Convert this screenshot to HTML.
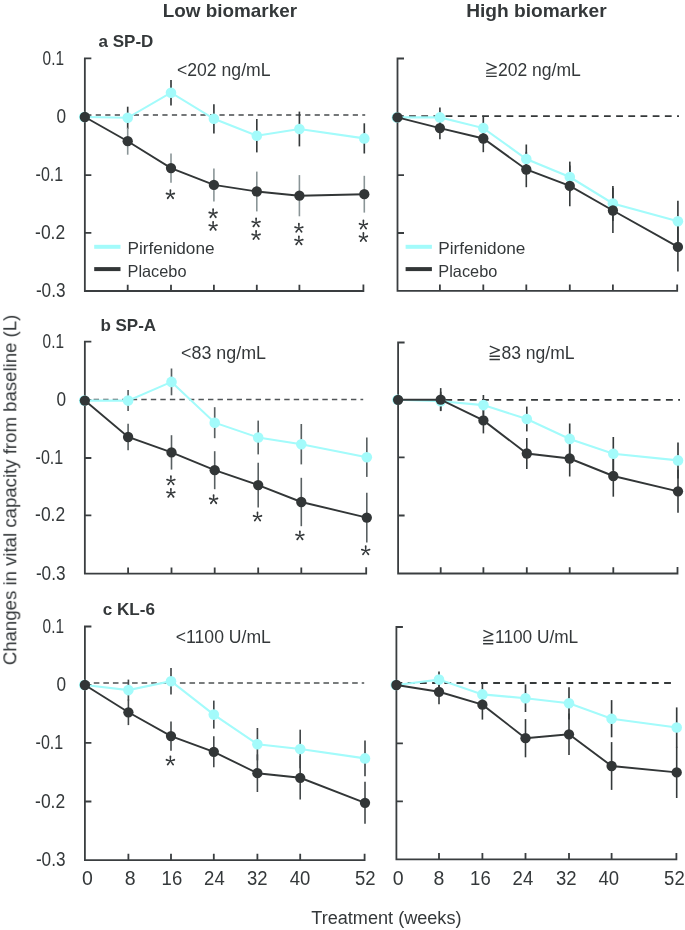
<!DOCTYPE html>
<html><head><meta charset="utf-8"><style>
html,body{margin:0;padding:0;background:#fff;overflow:hidden;}
svg{display:block;}
text{font-family:"Liberation Sans",sans-serif;fill:#34383a;}
</style></head><body>
<svg width="685" height="930" viewBox="0 0 685 930">
<rect width="685" height="930" fill="#fff"/>
<path d="M86.2 115.1H365.2" stroke="#474b4d" stroke-width="1.5" stroke-dasharray="5.2 4.32" fill="none"/>
<path d="M91.35 58.4H84.85V291H363.4V284.6M84.85 116.6h6.5M84.85 175.2h6.5M84.85 232.9h6.5M127.7 291v-6.3M171 291v-6.3M213.9 291v-6.3M256.8 291v-6.3M299.4 291v-6.3" stroke="#3a3e40" stroke-width="1.8" fill="none" stroke-linejoin="miter"/>
<path d="M127.7 106.7V128.9" stroke="#353a3b" stroke-width="1.65"/><path d="M171 79.9V105.5" stroke="#353a3b" stroke-width="1.65"/><path d="M213.9 104.2V133.4" stroke="#353a3b" stroke-width="1.65"/><path d="M256.8 119V152.4" stroke="#353a3b" stroke-width="1.65"/><path d="M299.4 111.6V146.4" stroke="#353a3b" stroke-width="1.65"/><path d="M364.3 123.3V153.5" stroke="#353a3b" stroke-width="1.65"/><path d="M127.7 127.7V154.7" stroke="#8a9597" stroke-width="1.6"/><path d="M171 153.5V182.7" stroke="#8a9597" stroke-width="1.6"/><path d="M213.9 168.4V201.4" stroke="#8a9597" stroke-width="1.6"/><path d="M256.8 171.6V211.4" stroke="#8a9597" stroke-width="1.6"/><path d="M299.4 175.1V216.3" stroke="#8a9597" stroke-width="1.6"/><path d="M364.3 175.8V212.6" stroke="#8a9597" stroke-width="1.6"/>
<polyline points="84.85,117 127.7,117.8 171,92.7 213.9,118.8 256.8,135.7 299.4,129 364.3,138.4" stroke="#a3fbfb" stroke-width="2.1" fill="none"/>
<circle cx="84.25" cy="117" r="5.3" fill="#a3fbfb"/><circle cx="127.7" cy="117.8" r="5.3" fill="#a3fbfb"/><circle cx="171" cy="92.7" r="5.3" fill="#a3fbfb"/><circle cx="213.9" cy="118.8" r="5.3" fill="#a3fbfb"/><circle cx="256.8" cy="135.7" r="5.3" fill="#a3fbfb"/><circle cx="299.4" cy="129" r="5.3" fill="#a3fbfb"/><circle cx="364.3" cy="138.4" r="5.3" fill="#a3fbfb"/>
<polyline points="84.85,117 127.7,141.2 171,168.1 213.9,184.9 256.8,191.5 299.4,195.7 364.3,194.2" stroke="#323637" stroke-width="1.9" fill="none"/>
<circle cx="84.85" cy="117" r="5.15" fill="#323637"/><circle cx="127.7" cy="141.2" r="5.15" fill="#323637"/><circle cx="171" cy="168.1" r="5.15" fill="#323637"/><circle cx="213.9" cy="184.9" r="5.15" fill="#323637"/><circle cx="256.8" cy="191.5" r="5.15" fill="#323637"/><circle cx="299.4" cy="195.7" r="5.15" fill="#323637"/><circle cx="364.3" cy="194.2" r="5.15" fill="#323637"/>
<path d="M396.9 116.1H679" stroke="#35393a" stroke-width="1.8" stroke-dasharray="6.8 5.38" fill="none"/>
<path d="M404 58.5H397.5V290.8H677.2V284.4M397.5 116.7h6.5M397.5 175.2h6.5M397.5 233h6.5M439.9 290.8v-6.3M483.3 290.8v-6.3M526.3 290.8v-6.3M569.8 290.8v-6.3M612.9 290.8v-6.3" stroke="#3a3e40" stroke-width="1.8" fill="none" stroke-linejoin="miter"/>
<path d="M439.9 107.5V127.3" stroke="#353a3b" stroke-width="1.65"/><path d="M483.3 115.7V140.5" stroke="#353a3b" stroke-width="1.65"/><path d="M526.3 144.5V173.5" stroke="#353a3b" stroke-width="1.65"/><path d="M569.8 161.6V192.4" stroke="#353a3b" stroke-width="1.65"/><path d="M612.9 185.9V221.1" stroke="#353a3b" stroke-width="1.65"/><path d="M677.9 200.7V241.7" stroke="#353a3b" stroke-width="1.65"/><path d="M439.9 116.9V139.3" stroke="#353a3b" stroke-width="1.6"/><path d="M483.3 124.8V152.2" stroke="#353a3b" stroke-width="1.6"/><path d="M526.3 151.8V187.2" stroke="#353a3b" stroke-width="1.6"/><path d="M569.8 165.5V206.3" stroke="#353a3b" stroke-width="1.6"/><path d="M612.9 188.1V232.9" stroke="#353a3b" stroke-width="1.6"/><path d="M677.9 222.3V271.5" stroke="#353a3b" stroke-width="1.6"/>
<polyline points="397.5,117.4 439.9,117.4 483.3,128.1 526.3,159 569.8,177 612.9,203.5 677.9,221.2" stroke="#a3fbfb" stroke-width="2.1" fill="none"/>
<circle cx="396.9" cy="117.4" r="5.3" fill="#a3fbfb"/><circle cx="439.9" cy="117.4" r="5.3" fill="#a3fbfb"/><circle cx="483.3" cy="128.1" r="5.3" fill="#a3fbfb"/><circle cx="526.3" cy="159" r="5.3" fill="#a3fbfb"/><circle cx="569.8" cy="177" r="5.3" fill="#a3fbfb"/><circle cx="612.9" cy="203.5" r="5.3" fill="#a3fbfb"/><circle cx="677.9" cy="221.2" r="5.3" fill="#a3fbfb"/>
<polyline points="397.5,117.4 439.9,128.1 483.3,138.5 526.3,169.5 569.8,185.9 612.9,210.5 677.9,246.9" stroke="#323637" stroke-width="1.9" fill="none"/>
<circle cx="397.5" cy="117.4" r="5.15" fill="#323637"/><circle cx="439.9" cy="128.1" r="5.15" fill="#323637"/><circle cx="483.3" cy="138.5" r="5.15" fill="#323637"/><circle cx="526.3" cy="169.5" r="5.15" fill="#323637"/><circle cx="569.8" cy="185.9" r="5.15" fill="#323637"/><circle cx="612.9" cy="210.5" r="5.15" fill="#323637"/><circle cx="677.9" cy="246.9" r="5.15" fill="#323637"/>
<path d="M84.1 399.5H363.2" stroke="#515557" stroke-width="1.5" stroke-dasharray="5.4 4.13" fill="none"/>
<path d="M91.35 341.7H84.85V573.7H366.2V567.3M84.85 399.8h6.5M84.85 458h6.5M84.85 515.3h6.5M128.1 573.7v-6.3M171.5 573.7v-6.3M214.7 573.7v-6.3M258.2 573.7v-6.3M301.3 573.7v-6.3" stroke="#3a3e40" stroke-width="1.8" fill="none" stroke-linejoin="miter"/>
<path d="M128.1 390.1V411.1" stroke="#596062" stroke-width="1.65"/><path d="M171.5 368.5V395.3" stroke="#596062" stroke-width="1.65"/><path d="M214.7 407.2V438.2" stroke="#596062" stroke-width="1.65"/><path d="M258.2 420.6V454.4" stroke="#596062" stroke-width="1.65"/><path d="M301.3 424V464.4" stroke="#596062" stroke-width="1.65"/><path d="M366.8 437.5V476.9" stroke="#596062" stroke-width="1.65"/><path d="M128.1 423.7V450.3" stroke="#596062" stroke-width="1.6"/><path d="M171.5 435.2V469.6" stroke="#596062" stroke-width="1.6"/><path d="M214.7 451.2V489.2" stroke="#596062" stroke-width="1.6"/><path d="M258.2 462.8V507.4" stroke="#596062" stroke-width="1.6"/><path d="M301.3 477.8V526.2" stroke="#596062" stroke-width="1.6"/><path d="M366.8 492.8V542.4" stroke="#596062" stroke-width="1.6"/>
<polyline points="84.85,400.6 128.1,400.6 171.5,381.9 214.7,422.7 258.2,437.5 301.3,444.2 366.8,457.2" stroke="#a3fbfb" stroke-width="2.1" fill="none"/>
<circle cx="84.25" cy="400.6" r="5.3" fill="#a3fbfb"/><circle cx="128.1" cy="400.6" r="5.3" fill="#a3fbfb"/><circle cx="171.5" cy="381.9" r="5.3" fill="#a3fbfb"/><circle cx="214.7" cy="422.7" r="5.3" fill="#a3fbfb"/><circle cx="258.2" cy="437.5" r="5.3" fill="#a3fbfb"/><circle cx="301.3" cy="444.2" r="5.3" fill="#a3fbfb"/><circle cx="366.8" cy="457.2" r="5.3" fill="#a3fbfb"/>
<polyline points="84.85,400.6 128.1,437 171.5,452.4 214.7,470.2 258.2,485.1 301.3,502 366.8,517.6" stroke="#323637" stroke-width="1.9" fill="none"/>
<circle cx="84.85" cy="400.6" r="5.15" fill="#323637"/><circle cx="128.1" cy="437" r="5.15" fill="#323637"/><circle cx="171.5" cy="452.4" r="5.15" fill="#323637"/><circle cx="214.7" cy="470.2" r="5.15" fill="#323637"/><circle cx="258.2" cy="485.1" r="5.15" fill="#323637"/><circle cx="301.3" cy="502" r="5.15" fill="#323637"/><circle cx="366.8" cy="517.6" r="5.15" fill="#323637"/>
<path d="M396.2 399.8H680" stroke="#35393a" stroke-width="1.8" stroke-dasharray="6.9 5.36" fill="none"/>
<path d="M404.6 342.5H398.1V573.5H677.5V567.1M398.1 400h6.5M398.1 457.4h6.5M398.1 515.5h6.5M440.7 573.5v-6.3M483.4 573.5v-6.3M526.8 573.5v-6.3M569.7 573.5v-6.3M613.3 573.5v-6.3" stroke="#3a3e40" stroke-width="1.8" fill="none" stroke-linejoin="miter"/>
<path d="M440.7 391.7V410.7" stroke="#353a3b" stroke-width="1.65"/><path d="M483.4 395V415.2" stroke="#353a3b" stroke-width="1.65"/><path d="M526.8 406.6V431.4" stroke="#353a3b" stroke-width="1.65"/><path d="M569.7 423.5V454.3" stroke="#353a3b" stroke-width="1.65"/><path d="M613.3 437V470.4" stroke="#353a3b" stroke-width="1.65"/><path d="M678 442.4V478.4" stroke="#353a3b" stroke-width="1.65"/><path d="M440.7 388.1V411.1" stroke="#353a3b" stroke-width="1.6"/><path d="M483.4 407.4V433.4" stroke="#353a3b" stroke-width="1.6"/><path d="M526.8 437.9V469.1" stroke="#353a3b" stroke-width="1.6"/><path d="M569.7 440.5V476.5" stroke="#353a3b" stroke-width="1.6"/><path d="M613.3 455.3V496.7" stroke="#353a3b" stroke-width="1.6"/><path d="M678 469.8V512.8" stroke="#353a3b" stroke-width="1.6"/>
<polyline points="398.1,399.8 440.7,401.2 483.4,405.1 526.8,419 569.7,438.9 613.3,453.7 678,460.4" stroke="#a3fbfb" stroke-width="2.1" fill="none"/>
<circle cx="397.5" cy="399.8" r="5.3" fill="#a3fbfb"/><circle cx="440.7" cy="401.2" r="5.3" fill="#a3fbfb"/><circle cx="483.4" cy="405.1" r="5.3" fill="#a3fbfb"/><circle cx="526.8" cy="419" r="5.3" fill="#a3fbfb"/><circle cx="569.7" cy="438.9" r="5.3" fill="#a3fbfb"/><circle cx="613.3" cy="453.7" r="5.3" fill="#a3fbfb"/><circle cx="678" cy="460.4" r="5.3" fill="#a3fbfb"/>
<polyline points="398.1,399.8 440.7,399.6 483.4,420.4 526.8,453.5 569.7,458.5 613.3,476 678,491.3" stroke="#323637" stroke-width="1.9" fill="none"/>
<circle cx="398.1" cy="399.8" r="5.15" fill="#323637"/><circle cx="440.7" cy="399.6" r="5.15" fill="#323637"/><circle cx="483.4" cy="420.4" r="5.15" fill="#323637"/><circle cx="526.8" cy="453.5" r="5.15" fill="#323637"/><circle cx="569.7" cy="458.5" r="5.15" fill="#323637"/><circle cx="613.3" cy="476" r="5.15" fill="#323637"/><circle cx="678" cy="491.3" r="5.15" fill="#323637"/>
<path d="M84.2 682.9H364.2" stroke="#4d5153" stroke-width="1.5" stroke-dasharray="5.6 3.97" fill="none"/>
<path d="M91.4 626.5H84.9V860.1H364.6V853.7M84.9 684.8h6.5M84.9 742.8h6.5M84.9 801.5h6.5M128.4 860.1v-6.3M171 860.1v-6.3M213.8 860.1v-6.3M257.4 860.1v-6.3M300.2 860.1v-6.3" stroke="#3a3e40" stroke-width="1.8" fill="none" stroke-linejoin="miter"/>
<path d="M128.4 679.6V700.6" stroke="#43484a" stroke-width="1.65"/><path d="M171 667.9V694.5" stroke="#43484a" stroke-width="1.65"/><path d="M213.8 700.6V728.6" stroke="#43484a" stroke-width="1.65"/><path d="M257.4 728V760.4" stroke="#43484a" stroke-width="1.65"/><path d="M300.2 729.7V768.3" stroke="#43484a" stroke-width="1.65"/><path d="M365 740.6V776.2" stroke="#43484a" stroke-width="1.65"/><path d="M128.4 699.5V725.1" stroke="#43484a" stroke-width="1.6"/><path d="M171 721.4V750.8" stroke="#43484a" stroke-width="1.6"/><path d="M213.8 736.3V767.3" stroke="#43484a" stroke-width="1.6"/><path d="M257.4 754.4V792" stroke="#43484a" stroke-width="1.6"/><path d="M300.2 756V799.6" stroke="#43484a" stroke-width="1.6"/><path d="M365 781.8V823.8" stroke="#43484a" stroke-width="1.6"/>
<polyline points="84.9,685 128.4,690.1 171,681.2 213.8,714.6 257.4,744.2 300.2,749 365,758.4" stroke="#a3fbfb" stroke-width="2.1" fill="none"/>
<circle cx="84.3" cy="685" r="5.3" fill="#a3fbfb"/><circle cx="128.4" cy="690.1" r="5.3" fill="#a3fbfb"/><circle cx="171" cy="681.2" r="5.3" fill="#a3fbfb"/><circle cx="213.8" cy="714.6" r="5.3" fill="#a3fbfb"/><circle cx="257.4" cy="744.2" r="5.3" fill="#a3fbfb"/><circle cx="300.2" cy="749" r="5.3" fill="#a3fbfb"/><circle cx="365" cy="758.4" r="5.3" fill="#a3fbfb"/>
<polyline points="84.9,685 128.4,712.3 171,736.1 213.8,751.8 257.4,773.2 300.2,777.8 365,802.8" stroke="#323637" stroke-width="1.9" fill="none"/>
<circle cx="84.9" cy="685" r="5.15" fill="#323637"/><circle cx="128.4" cy="712.3" r="5.15" fill="#323637"/><circle cx="171" cy="736.1" r="5.15" fill="#323637"/><circle cx="213.8" cy="751.8" r="5.15" fill="#323637"/><circle cx="257.4" cy="773.2" r="5.15" fill="#323637"/><circle cx="300.2" cy="777.8" r="5.15" fill="#323637"/><circle cx="365" cy="802.8" r="5.15" fill="#323637"/>
<path d="M395.5 683H671.1" stroke="#35393a" stroke-width="1.8" stroke-dasharray="6.8 5.41" fill="none"/>
<path d="M402.9 627H396.4V859.4H676.4V853M396.4 685h6.5M396.4 743.3h6.5M396.4 801.3h6.5M439 859.4v-6.3M482.4 859.4v-6.3M525.5 859.4v-6.3M569 859.4v-6.3M611.6 859.4v-6.3" stroke="#3a3e40" stroke-width="1.8" fill="none" stroke-linejoin="miter"/>
<path d="M439 671.5V687.7" stroke="#353a3b" stroke-width="1.65"/><path d="M482.4 683.5V705.3" stroke="#353a3b" stroke-width="1.65"/><path d="M525.5 684.4V712" stroke="#353a3b" stroke-width="1.65"/><path d="M569 687.2V719.4" stroke="#353a3b" stroke-width="1.65"/><path d="M611.6 700.1V737.3" stroke="#353a3b" stroke-width="1.65"/><path d="M676.7 707.4V747.6" stroke="#353a3b" stroke-width="1.65"/><path d="M439 679.3V704.3" stroke="#353a3b" stroke-width="1.6"/><path d="M482.4 689.8V719.6" stroke="#353a3b" stroke-width="1.6"/><path d="M525.5 719.1V757.3" stroke="#353a3b" stroke-width="1.6"/><path d="M569 713.6V755" stroke="#353a3b" stroke-width="1.6"/><path d="M611.6 742.1V789.9" stroke="#353a3b" stroke-width="1.6"/><path d="M676.7 746.8V798" stroke="#353a3b" stroke-width="1.6"/>
<polyline points="396.4,685 439,679.6 482.4,694.4 525.5,698.2 569,703.3 611.6,718.7 676.7,727.5" stroke="#a3fbfb" stroke-width="2.1" fill="none"/>
<circle cx="395.8" cy="685" r="5.3" fill="#a3fbfb"/><circle cx="439" cy="679.6" r="5.3" fill="#a3fbfb"/><circle cx="482.4" cy="694.4" r="5.3" fill="#a3fbfb"/><circle cx="525.5" cy="698.2" r="5.3" fill="#a3fbfb"/><circle cx="569" cy="703.3" r="5.3" fill="#a3fbfb"/><circle cx="611.6" cy="718.7" r="5.3" fill="#a3fbfb"/><circle cx="676.7" cy="727.5" r="5.3" fill="#a3fbfb"/>
<polyline points="396.4,685 439,691.8 482.4,704.7 525.5,738.2 569,734.3 611.6,766 676.7,772.4" stroke="#323637" stroke-width="1.9" fill="none"/>
<circle cx="396.4" cy="685" r="5.15" fill="#323637"/><circle cx="439" cy="691.8" r="5.15" fill="#323637"/><circle cx="482.4" cy="704.7" r="5.15" fill="#323637"/><circle cx="525.5" cy="738.2" r="5.15" fill="#323637"/><circle cx="569" cy="734.3" r="5.15" fill="#323637"/><circle cx="611.6" cy="766" r="5.15" fill="#323637"/><circle cx="676.7" cy="772.4" r="5.15" fill="#323637"/>
<path d="M170.9 194.6L171.32 190.15A0.92 0.92 0 0 0 169.48 190.15L169.9 194.6ZM170.54 195.08L174.5 194.38A0.92 0.92 0 0 0 174 192.61L170.26 194.12ZM170 194.9L172.34 198.71A0.92 0.92 0 0 0 173.81 197.6L170.8 194.3ZM170 194.3L166.99 197.6A0.92 0.92 0 0 0 168.46 198.71L170.8 194.9ZM170.54 194.12L166.8 192.61A0.92 0.92 0 0 0 166.3 194.38L170.26 195.08Z" fill="#34383a" fill-rule="nonzero"/>
<path d="M213.6 213.6L214.02 209.15A0.92 0.92 0 0 0 212.18 209.15L212.6 213.6ZM213.24 214.08L217.2 213.38A0.92 0.92 0 0 0 216.7 211.61L212.96 213.12ZM212.7 213.9L215.04 217.71A0.92 0.92 0 0 0 216.51 216.6L213.5 213.3ZM212.7 213.3L209.69 216.6A0.92 0.92 0 0 0 211.16 217.71L213.5 213.9ZM213.24 213.12L209.5 211.61A0.92 0.92 0 0 0 209 213.38L212.96 214.08Z" fill="#34383a" fill-rule="nonzero"/>
<path d="M213.6 226.3L214.02 221.85A0.92 0.92 0 0 0 212.18 221.85L212.6 226.3ZM213.24 226.78L217.2 226.08A0.92 0.92 0 0 0 216.7 224.31L212.96 225.82ZM212.7 226.6L215.04 230.41A0.92 0.92 0 0 0 216.51 229.3L213.5 226ZM212.7 226L209.69 229.3A0.92 0.92 0 0 0 211.16 230.41L213.5 226.6ZM213.24 225.82L209.5 224.31A0.92 0.92 0 0 0 209 226.08L212.96 226.78Z" fill="#34383a" fill-rule="nonzero"/>
<path d="M256.6 222.8L257.02 218.35A0.92 0.92 0 0 0 255.18 218.35L255.6 222.8ZM256.24 223.28L260.2 222.58A0.92 0.92 0 0 0 259.7 220.81L255.96 222.32ZM255.7 223.1L258.04 226.91A0.92 0.92 0 0 0 259.51 225.8L256.5 222.5ZM255.7 222.5L252.69 225.8A0.92 0.92 0 0 0 254.16 226.91L256.5 223.1ZM256.24 222.32L252.5 220.81A0.92 0.92 0 0 0 252 222.58L255.96 223.28Z" fill="#34383a" fill-rule="nonzero"/>
<path d="M256.6 235.4L257.02 230.95A0.92 0.92 0 0 0 255.18 230.95L255.6 235.4ZM256.24 235.88L260.2 235.18A0.92 0.92 0 0 0 259.7 233.41L255.96 234.92ZM255.7 235.7L258.04 239.51A0.92 0.92 0 0 0 259.51 238.4L256.5 235.1ZM255.7 235.1L252.69 238.4A0.92 0.92 0 0 0 254.16 239.51L256.5 235.7ZM256.24 234.92L252.5 233.41A0.92 0.92 0 0 0 252 235.18L255.96 235.88Z" fill="#34383a" fill-rule="nonzero"/>
<path d="M299.4 228.2L299.82 223.75A0.92 0.92 0 0 0 297.98 223.75L298.4 228.2ZM299.04 228.68L303 227.98A0.92 0.92 0 0 0 302.5 226.21L298.76 227.72ZM298.5 228.5L300.84 232.31A0.92 0.92 0 0 0 302.31 231.2L299.3 227.9ZM298.5 227.9L295.49 231.2A0.92 0.92 0 0 0 296.96 232.31L299.3 228.5ZM299.04 227.72L295.3 226.21A0.92 0.92 0 0 0 294.8 227.98L298.76 228.68Z" fill="#34383a" fill-rule="nonzero"/>
<path d="M299.4 240.8L299.82 236.35A0.92 0.92 0 0 0 297.98 236.35L298.4 240.8ZM299.04 241.28L303 240.58A0.92 0.92 0 0 0 302.5 238.81L298.76 240.32ZM298.5 241.1L300.84 244.91A0.92 0.92 0 0 0 302.31 243.8L299.3 240.5ZM298.5 240.5L295.49 243.8A0.92 0.92 0 0 0 296.96 244.91L299.3 241.1ZM299.04 240.32L295.3 238.81A0.92 0.92 0 0 0 294.8 240.58L298.76 241.28Z" fill="#34383a" fill-rule="nonzero"/>
<path d="M363.9 224.9L364.32 220.45A0.92 0.92 0 0 0 362.48 220.45L362.9 224.9ZM363.54 225.38L367.5 224.68A0.92 0.92 0 0 0 367 222.91L363.26 224.42ZM363 225.2L365.34 229.01A0.92 0.92 0 0 0 366.81 227.9L363.8 224.6ZM363 224.6L359.99 227.9A0.92 0.92 0 0 0 361.46 229.01L363.8 225.2ZM363.54 224.42L359.8 222.91A0.92 0.92 0 0 0 359.3 224.68L363.26 225.38Z" fill="#34383a" fill-rule="nonzero"/>
<path d="M363.9 237.4L364.32 232.95A0.92 0.92 0 0 0 362.48 232.95L362.9 237.4ZM363.54 237.88L367.5 237.18A0.92 0.92 0 0 0 367 235.41L363.26 236.92ZM363 237.7L365.34 241.51A0.92 0.92 0 0 0 366.81 240.4L363.8 237.1ZM363 237.1L359.99 240.4A0.92 0.92 0 0 0 361.46 241.51L363.8 237.7ZM363.54 236.92L359.8 235.41A0.92 0.92 0 0 0 359.3 237.18L363.26 237.88Z" fill="#34383a" fill-rule="nonzero"/>
<path d="M171.4 480.7L171.82 476.25A0.92 0.92 0 0 0 169.98 476.25L170.4 480.7ZM171.04 481.18L175 480.48A0.92 0.92 0 0 0 174.5 478.71L170.76 480.22ZM170.5 481L172.84 484.81A0.92 0.92 0 0 0 174.31 483.7L171.3 480.4ZM170.5 480.4L167.49 483.7A0.92 0.92 0 0 0 168.96 484.81L171.3 481ZM171.04 480.22L167.3 478.71A0.92 0.92 0 0 0 166.8 480.48L170.76 481.18Z" fill="#34383a" fill-rule="nonzero"/>
<path d="M171.4 493.3L171.82 488.85A0.92 0.92 0 0 0 169.98 488.85L170.4 493.3ZM171.04 493.78L175 493.08A0.92 0.92 0 0 0 174.5 491.31L170.76 492.82ZM170.5 493.6L172.84 497.41A0.92 0.92 0 0 0 174.31 496.3L171.3 493ZM170.5 493L167.49 496.3A0.92 0.92 0 0 0 168.96 497.41L171.3 493.6ZM171.04 492.82L167.3 491.31A0.92 0.92 0 0 0 166.8 493.08L170.76 493.78Z" fill="#34383a" fill-rule="nonzero"/>
<path d="M214.1 499.6L214.52 495.15A0.92 0.92 0 0 0 212.68 495.15L213.1 499.6ZM213.74 500.08L217.7 499.38A0.92 0.92 0 0 0 217.2 497.61L213.46 499.12ZM213.2 499.9L215.54 503.71A0.92 0.92 0 0 0 217.01 502.6L214 499.3ZM213.2 499.3L210.19 502.6A0.92 0.92 0 0 0 211.66 503.71L214 499.9ZM213.74 499.12L210 497.61A0.92 0.92 0 0 0 209.5 499.38L213.46 500.08Z" fill="#34383a" fill-rule="nonzero"/>
<path d="M258 516.9L258.42 512.45A0.92 0.92 0 0 0 256.58 512.45L257 516.9ZM257.64 517.38L261.6 516.68A0.92 0.92 0 0 0 261.1 514.91L257.36 516.42ZM257.1 517.2L259.44 521.01A0.92 0.92 0 0 0 260.91 519.9L257.9 516.6ZM257.1 516.6L254.09 519.9A0.92 0.92 0 0 0 255.56 521.01L257.9 517.2ZM257.64 516.42L253.9 514.91A0.92 0.92 0 0 0 253.4 516.68L257.36 517.38Z" fill="#34383a" fill-rule="nonzero"/>
<path d="M300.4 535.8L300.82 531.35A0.92 0.92 0 0 0 298.98 531.35L299.4 535.8ZM300.04 536.28L304 535.58A0.92 0.92 0 0 0 303.5 533.81L299.76 535.32ZM299.5 536.1L301.84 539.91A0.92 0.92 0 0 0 303.31 538.8L300.3 535.5ZM299.5 535.5L296.49 538.8A0.92 0.92 0 0 0 297.96 539.91L300.3 536.1ZM300.04 535.32L296.3 533.81A0.92 0.92 0 0 0 295.8 535.58L299.76 536.28Z" fill="#34383a" fill-rule="nonzero"/>
<path d="M366.2 550.7L366.62 546.25A0.92 0.92 0 0 0 364.78 546.25L365.2 550.7ZM365.84 551.18L369.8 550.48A0.92 0.92 0 0 0 369.3 548.71L365.56 550.22ZM365.3 551L367.64 554.81A0.92 0.92 0 0 0 369.11 553.7L366.1 550.4ZM365.3 550.4L362.29 553.7A0.92 0.92 0 0 0 363.76 554.81L366.1 551ZM365.84 550.22L362.1 548.71A0.92 0.92 0 0 0 361.6 550.48L365.56 551.18Z" fill="#34383a" fill-rule="nonzero"/>
<path d="M170.9 760.9L171.32 756.45A0.92 0.92 0 0 0 169.48 756.45L169.9 760.9ZM170.54 761.38L174.5 760.68A0.92 0.92 0 0 0 174 758.91L170.26 760.42ZM170 761.2L172.34 765.01A0.92 0.92 0 0 0 173.81 763.9L170.8 760.6ZM170 760.6L166.99 763.9A0.92 0.92 0 0 0 168.46 765.01L170.8 761.2ZM170.54 760.42L166.8 758.91A0.92 0.92 0 0 0 166.3 760.68L170.26 761.38Z" fill="#34383a" fill-rule="nonzero"/>
<path d="M486.4 63.1L496.3 67.02L486.4 70.8" stroke="#34383a" stroke-width="1.35" fill="none" stroke-linejoin="round" stroke-linecap="butt"/><path d="M486.1 73.18H496.7M486.1 76.4H496.7" stroke="#34383a" stroke-width="1.35" fill="none"/>
<path d="M489.8 346.2L499.5 350.12L489.8 353.9" stroke="#34383a" stroke-width="1.35" fill="none" stroke-linejoin="round" stroke-linecap="butt"/><path d="M489.5 356.28H499.9M489.5 359.5H499.9" stroke="#34383a" stroke-width="1.35" fill="none"/>
<path d="M483.4 630.4L492.9 634.32L483.4 638.1" stroke="#34383a" stroke-width="1.35" fill="none" stroke-linejoin="round" stroke-linecap="butt"/><path d="M483.1 640.48H493.3M483.1 643.7H493.3" stroke="#34383a" stroke-width="1.35" fill="none"/>
<path d="M94.2 246.8h26.3" stroke="#a3fbfb" stroke-width="4"/>
<path d="M94.2 269.1h26.3" stroke="#323637" stroke-width="4"/>
<path d="M405.6 246.8h26.3" stroke="#a3fbfb" stroke-width="4"/>
<path d="M405.6 269.1h26.3" stroke="#323637" stroke-width="4"/>
<g style="will-change:transform">
<text x="162.8" y="16.8" font-size="19" font-weight="700" textLength="134.2" lengthAdjust="spacingAndGlyphs">Low biomarker</text>
<text x="466.2" y="16.8" font-size="19" font-weight="700" textLength="140.4" lengthAdjust="spacingAndGlyphs">High biomarker</text>
<text x="98.6" y="47.3" font-size="17" font-weight="700">a SP-D</text>
<text x="100.4" y="331" font-size="17" font-weight="700">b SP-A</text>
<text x="102.7" y="614.7" font-size="17" font-weight="700" textLength="52.2" lengthAdjust="spacingAndGlyphs">c KL-6</text>
<text x="177" y="75.8" font-size="17.5" textLength="93.5" lengthAdjust="spacingAndGlyphs">&lt;202 ng/mL</text>
<text x="497.9" y="75.8" font-size="17.5" textLength="82.9" lengthAdjust="spacingAndGlyphs">202 ng/mL</text>
<text x="181" y="358.9" font-size="17.5" textLength="85" lengthAdjust="spacingAndGlyphs">&lt;83 ng/mL</text>
<text x="501.4" y="358.9" font-size="17.5" textLength="73.2" lengthAdjust="spacingAndGlyphs">83 ng/mL</text>
<text x="175.8" y="642.8" font-size="17.5" textLength="95.1" lengthAdjust="spacingAndGlyphs">&lt;1100 U/mL</text>
<text x="495.1" y="642.8" font-size="17.5" textLength="83.1" lengthAdjust="spacingAndGlyphs">1100 U/mL</text>
<text x="127.5" y="254.3" font-size="16.5" textLength="87.1" lengthAdjust="spacingAndGlyphs">Pirfenidone</text>
<text x="127.5" y="277.3" font-size="16.5" textLength="59" lengthAdjust="spacingAndGlyphs">Placebo</text>
<text x="438.3" y="254.3" font-size="16.5" textLength="87.1" lengthAdjust="spacingAndGlyphs">Pirfenidone</text>
<text x="438.3" y="277.3" font-size="16.5" textLength="59" lengthAdjust="spacingAndGlyphs">Placebo</text>
<text x="64" y="64.55" font-size="19.5" text-anchor="end" textLength="21.4" lengthAdjust="spacingAndGlyphs">0.1</text>
<text x="66.2" y="122.75" font-size="19.5" text-anchor="end" textLength="9.6" lengthAdjust="spacingAndGlyphs">0</text>
<text x="63.2" y="181.35" font-size="19.5" text-anchor="end" textLength="27.6" lengthAdjust="spacingAndGlyphs">-0.1</text>
<text x="65.2" y="239.05" font-size="19.5" text-anchor="end" textLength="30.1" lengthAdjust="spacingAndGlyphs">-0.2</text>
<text x="65.5" y="297.15" font-size="19.5" text-anchor="end" textLength="29.6" lengthAdjust="spacingAndGlyphs">-0.3</text>
<text x="64" y="347.85" font-size="19.5" text-anchor="end" textLength="21.4" lengthAdjust="spacingAndGlyphs">0.1</text>
<text x="66.2" y="405.95" font-size="19.5" text-anchor="end" textLength="9.6" lengthAdjust="spacingAndGlyphs">0</text>
<text x="63.2" y="464.15" font-size="19.5" text-anchor="end" textLength="27.6" lengthAdjust="spacingAndGlyphs">-0.1</text>
<text x="65.2" y="521.45" font-size="19.5" text-anchor="end" textLength="30.1" lengthAdjust="spacingAndGlyphs">-0.2</text>
<text x="65.5" y="579.85" font-size="19.5" text-anchor="end" textLength="29.6" lengthAdjust="spacingAndGlyphs">-0.3</text>
<text x="64" y="632.65" font-size="19.5" text-anchor="end" textLength="21.4" lengthAdjust="spacingAndGlyphs">0.1</text>
<text x="66.2" y="690.95" font-size="19.5" text-anchor="end" textLength="9.6" lengthAdjust="spacingAndGlyphs">0</text>
<text x="63.2" y="748.95" font-size="19.5" text-anchor="end" textLength="27.6" lengthAdjust="spacingAndGlyphs">-0.1</text>
<text x="65.2" y="807.65" font-size="19.5" text-anchor="end" textLength="30.1" lengthAdjust="spacingAndGlyphs">-0.2</text>
<text x="65.5" y="866.25" font-size="19.5" text-anchor="end" textLength="29.6" lengthAdjust="spacingAndGlyphs">-0.3</text>
<text x="87.4" y="884.5" font-size="19.5" text-anchor="middle">0</text>
<text x="130.2" y="884.5" font-size="19.5" text-anchor="middle">8</text>
<text x="171.9" y="884.5" font-size="19.5" text-anchor="middle" textLength="20.6" lengthAdjust="spacingAndGlyphs">16</text>
<text x="214.4" y="884.5" font-size="19.5" text-anchor="middle" textLength="20.6" lengthAdjust="spacingAndGlyphs">24</text>
<text x="257.3" y="884.5" font-size="19.5" text-anchor="middle" textLength="20.6" lengthAdjust="spacingAndGlyphs">32</text>
<text x="300.1" y="884.5" font-size="19.5" text-anchor="middle" textLength="20.6" lengthAdjust="spacingAndGlyphs">40</text>
<text x="365.3" y="884.5" font-size="19.5" text-anchor="middle" textLength="20.6" lengthAdjust="spacingAndGlyphs">52</text>
<text x="398.1" y="884.5" font-size="19.5" text-anchor="middle">0</text>
<text x="439" y="884.5" font-size="19.5" text-anchor="middle">8</text>
<text x="480.4" y="884.5" font-size="19.5" text-anchor="middle" textLength="20.6" lengthAdjust="spacingAndGlyphs">16</text>
<text x="522.9" y="884.5" font-size="19.5" text-anchor="middle" textLength="20.6" lengthAdjust="spacingAndGlyphs">24</text>
<text x="566.2" y="884.5" font-size="19.5" text-anchor="middle" textLength="20.6" lengthAdjust="spacingAndGlyphs">32</text>
<text x="608.8" y="884.5" font-size="19.5" text-anchor="middle" textLength="20.6" lengthAdjust="spacingAndGlyphs">40</text>
<text x="674.4" y="884.5" font-size="19.5" text-anchor="middle" textLength="20.6" lengthAdjust="spacingAndGlyphs">52</text>
<text x="311.3" y="924.4" font-size="18" textLength="150.2" lengthAdjust="spacingAndGlyphs">Treatment (weeks)</text>
<text transform="translate(16.3 489.9) rotate(-90)" font-size="18.5" text-anchor="middle" textLength="350.5" lengthAdjust="spacingAndGlyphs">Changes in vital capacity from baseline (L)</text>
</g>
</svg>
</body></html>
